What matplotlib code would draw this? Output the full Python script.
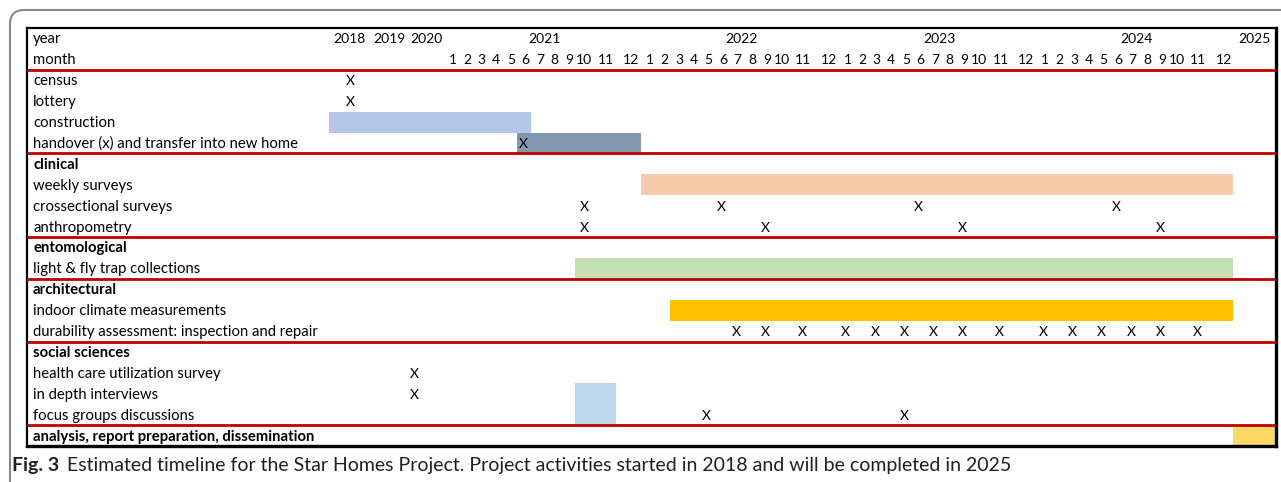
import numpy as np
import matplotlib.pyplot as plt
from matplotlib.patches import FancyBboxPatch

plt.rcParams['font.family'] = ['Lato', 'DejaVu Sans']

# ---------------- datos del cronograma ----------------
activities = ['year', 'month', 'census', 'lottery', 'construction',
              'handover (x) and transfer into new home',
              'clinical', 'weekly surveys', 'crossectional surveys', 'anthropometry',
              'entomological', 'light & fly trap collections',
              'architectural', 'indoor climate measurements',
              'durability assessment: inspection and repair',
              'social sciences', 'health care utilization survey', 'in depth interviews',
              'focus groups discussions',
              'analysis, report preparation, dissemination']
bold_rows = ['clinical', 'entomological', 'architectural', 'social sciences',
             'analysis, report preparation, dissemination']
# filas tras las cuales va una linea roja
section_ends = ['month', 'handover (x) and transfer into new home', 'anthropometry',
                'light & fly trap collections',
                'durability assessment: inspection and repair', 'focus groups discussions']

year_columns = [2018, 2019, 2020]
month_years = [2021, 2022, 2023, 2024]
months = list(range(1, 13))
final_year = 2025

# barras: fila, inicio (año, mes), fin (año, mes), color
bar_rows = ['construction', 'handover (x) and transfer into new home', 'weekly surveys',
            'light & fly trap collections', 'indoor climate measurements',
            'in depth interviews', 'focus groups discussions',
            'analysis, report preparation, dissemination']
bar_start = [(2018, 1), (2021, 6), (2022, 1), (2021, 10), (2022, 3), (2021, 10), (2021, 10), (2025, 1)]
bar_end = [(2021, 6), (2021, 12), (2024, 12), (2024, 12), (2024, 12), (2021, 11), (2021, 11), (2025, 12)]
bar_colors = ['#B4C7E7', '#8497B0', '#F8CBAD', '#C5E0B4', '#FFC000', '#BDD7EE', '#BDD7EE', '#FFD966']

# marcas "X": fila y fechas (año, mes)
mark_rows = ['census', 'lottery', 'handover (x) and transfer into new home',
             'crossectional surveys', 'anthropometry',
             'durability assessment: inspection and repair',
             'health care utilization survey', 'in depth interviews', 'focus groups discussions']
mark_dates = [
    [(2018, 7)],
    [(2018, 7)],
    [(2021, 6)],
    [(2021, 10), (2022, 6), (2023, 6), (2024, 6)],
    [(2021, 10), (2022, 9), (2023, 9), (2024, 9)],
    [(2022, 7), (2022, 9), (2022, 11), (2023, 1), (2023, 3), (2023, 5), (2023, 7), (2023, 9),
     (2023, 11), (2024, 1), (2024, 3), (2024, 5), (2024, 7), (2024, 9), (2024, 11)],
    [(2020, 2)],
    [(2020, 2)],
    [(2022, 5), (2023, 5)],
]

caption_bold = 'Fig. 3'
caption_text = ('Estimated timeline for the Star Homes Project. Project activities started in 2018 '
                'and will be completed in 2025')

# ---------------- geometria (pixeles) ----------------
W, H = 1281, 482
box_l, box_r, box_t, box_b = 27, 1276, 28, 446
first_col = 329 - box_l
year_widths = [40, 41, 33.5]
month_widths = [14.6] * 9 + [18.6, 22.0, 25.5]

# bordes de columnas en coordenadas de datos
col_start = {}
col_width = {}
x = first_col
for y_, w in zip(year_columns, year_widths):
    col_start[(y_, None)] = x
    col_width[(y_, None)] = w
    x += w
for y_ in month_years:
    for m, w in zip(months, month_widths):
        col_start[(y_, m)] = x
        col_width[(y_, m)] = w
        x += w
col_start[(final_year, None)] = x
col_width[(final_year, None)] = (box_r - box_l) - x


def pos(date, where='center'):
    year, month = date
    if (year, month) in col_start:
        s, w = col_start[(year, month)], col_width[(year, month)]
    else:
        # columna de año completo: el mes es una fraccion dentro del año
        ys, yw = col_start[(year, None)], col_width[(year, None)]
        s, w = ys + (month - 1) / 12 * yw, yw / 12
    if where == 'start':
        return s
    if where == 'end':
        return s + w
    return s + w / 2


row_of = {a: i for i, a in enumerate(activities)}
n_rows = len(activities)

fig = plt.figure(figsize=(W / 100, H / 100), dpi=100)
fig.patch.set_facecolor('white')

# marco exterior redondeado y pie de figura
bg = fig.add_axes([0, 0, 1, 1], zorder=-1)
bg.set_xlim(0, W)
bg.set_ylim(H, 0)
bg.axis('off')
bg.add_patch(FancyBboxPatch((10, 10), 1400, 700, boxstyle='round,pad=0,rounding_size=14',
                            fc='none', ec='#8a8a8a', lw=1.5))

ax = fig.add_axes([box_l / W, 1 - box_b / H, (box_r - box_l) / W, (box_b - box_t) / H])
ax.set_xlim(0, box_r - box_l)
ax.set_ylim(n_rows, 0)
ax.set_xticks([])
ax.set_yticks([])
for s in ax.spines.values():
    s.set_linewidth(1.6)
    s.set_color('black')
ax.spines['right'].set_linewidth(2.4)
ax.spines['bottom'].set_linewidth(2.4)

fs = 10.7
fs_head = 10.0

# etiquetas de filas
for a in activities:
    ax.text(6, row_of[a] + 0.55, a, ha='left', va='center', fontsize=fs,
            fontweight='bold' if a in bold_rows else 'normal')

# cabecera: años y meses
r_year, r_month = row_of['year'] + 0.55, row_of['month'] + 0.55
for y_ in year_columns:
    ax.text(pos((y_, 6), 'end'), r_year, str(y_), ha='center', va='center', fontsize=fs_head)
for y_ in month_years:
    ax.text(pos((y_, 7), 'start') - 3, r_year, str(y_), ha='left', va='center', fontsize=fs_head)
    for m in months:
        ax.text(pos((y_, m), 'end') - 1.5, r_month, str(m), ha='right', va='center',
                fontsize=fs_head)
ax.text(pos((final_year, 12), 'end') - 5, r_year, str(final_year), ha='right', va='center',
        fontsize=fs_head)

# barras
for r, s, e, c in zip(bar_rows, bar_start, bar_end, bar_colors):
    left = pos(s, 'start')
    ax.barh(row_of[r] + 0.5, pos(e, 'end') - left, left=left, height=1.0, color=c,
            edgecolor='none', zorder=1)

# marcas X
for r, dates in zip(mark_rows, mark_dates):
    for d in dates:
        ax.text(pos(d), row_of[r] + 0.55, 'X', ha='center', va='center', fontsize=fs - 0.7, zorder=4)

# lineas rojas de seccion
for r in section_ends:
    ax.axhline(row_of[r] + 1, color='#C00000', lw=2, zorder=3)

# pie de figura
t1 = bg.text(12, 466, caption_bold, fontsize=14, fontweight='bold', va='center', ha='left',
             color='#231F20')
fig.canvas.draw()
bb = t1.get_window_extent()
bg.text(bb.x1 + 8, 466, caption_text, fontsize=14, va='center', ha='left', color='#231F20')

fig.savefig('out.png', dpi=100)
